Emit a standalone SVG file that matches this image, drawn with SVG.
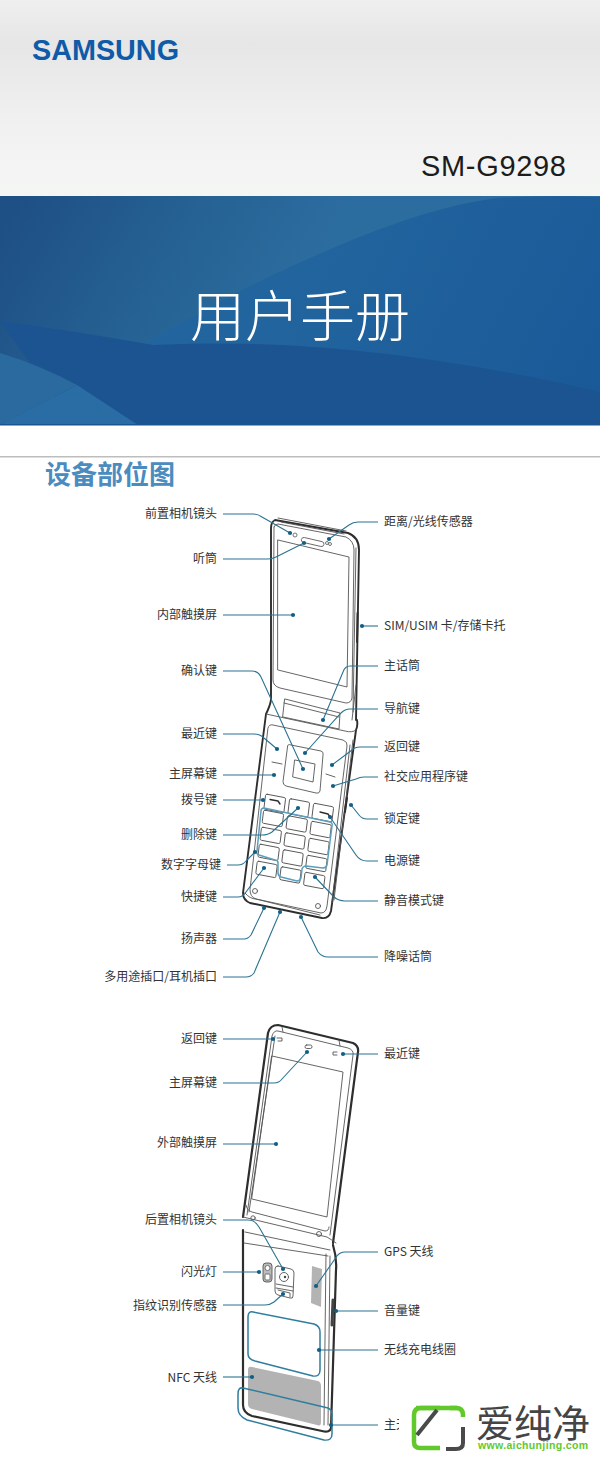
<svg xmlns="http://www.w3.org/2000/svg" width="600" height="1457" viewBox="0 0 600 1457">
<style>
.l{font:12px "Noto Sans CJK SC","Liberation Sans",sans-serif;fill:#333}
.e{text-anchor:end}
.c{fill:none;stroke:#2b7391;stroke-width:1.1;marker-end:url(#dot)}
.k{fill:none;stroke:#2e2e2e;stroke-width:1.9;stroke-linejoin:round;stroke-linecap:round}
.t{fill:none;stroke:#555;stroke-width:.9;stroke-linejoin:round;stroke-linecap:round}
.b{fill:#fff;stroke:#666;stroke-width:.9}
.h{fill:none;stroke:#5b9fbe;stroke-width:1.5;stroke-linejoin:round}
.g{fill:#b3b3b3}
</style>
<defs>
<marker id="dot" markerUnits="userSpaceOnUse" markerWidth="6" markerHeight="6" refX="3" refY="3"><circle cx="3" cy="3" r="2.1" fill="#115f86"/></marker>
<linearGradient id="hd" x1="0" y1="0" x2="0" y2="1"><stop offset="0" stop-color="#efefef"/><stop offset=".22" stop-color="#e6e6e6"/><stop offset=".6" stop-color="#f0f0f0"/><stop offset="1" stop-color="#f4f6f4"/></linearGradient>
<linearGradient id="ul" gradientUnits="userSpaceOnUse" x1="20" y1="190" x2="280" y2="340"><stop offset="0" stop-color="#1e4f85"/><stop offset=".55" stop-color="#266294"/><stop offset="1" stop-color="#2c6d9f"/></linearGradient>
<linearGradient id="rt" gradientUnits="userSpaceOnUse" x1="300" y1="240" x2="600" y2="400"><stop offset="0" stop-color="#22659e"/><stop offset="1" stop-color="#1a5998"/></linearGradient>
</defs>
<g id="cover">
<rect width="600" height="196" fill="url(#hd)"/>
<text x="32" y="60" font-family="Liberation Sans,sans-serif" font-weight="700" font-size="30" fill="#0f5ba8" textLength="147" lengthAdjust="spacingAndGlyphs">SAMSUNG</text>
<text x="421" y="176" font-family="Liberation Sans,sans-serif" font-size="29" fill="#1c1c1c" textLength="145">SM-G9298</text>
<rect y="196" width="600" height="229" fill="url(#ul)"/>
<path d="M0,425C100,368 200,310 268,277C340,244 420,208 497,198Q550,195 600,197V425Z" fill="url(#rt)"/>
<path d="M0,321Q80,332 153,345C250,340 400,345 600,392V425H75Z" fill="#1c5491"/>
<path d="M0,425L77,385L138,425Z" fill="#2a6ca4"/>
<path d="M0,353Q40,365 77,385L0,425Z" fill="#2a6a9f"/>
<rect y="424" width="600" height="1.5" fill="#1a5590"/>
<text x="190" y="336" font-family="Noto Sans CJK SC,sans-serif" font-weight="300" font-size="55" fill="#fff">用户手册</text>
<rect y="456" width="600" height="1.5" fill="#bdbdbd"/>
<text x="45" y="484" font-family="Noto Sans CJK SC,sans-serif" font-weight="700" font-size="26" fill="#4a8cc0">设备部位图</text>
</g>
<g id="phone-front">
<path class="k" d="M271,700V528Q271,522 275,520L348,533Q359,537 359,550L356,720"/>
<path class="t" d="M274,527Q275,524 278,524L346,537Q354,541 354,550L352,698Q351,703 346,703L280,688Q273,686 273,680L274,527"/>
<path class="t" d="M278,518L346,531M281,522L344,534M356,548L353,712"/>
<path class="t" d="M278,540L349,557L347,687L278,670Z"/>
<rect class="b" x="302" y="537" width="23" height="5" rx="2.5" transform="rotate(13 302 537)"/>
<circle class="b" cx="295" cy="535" r="2"/><circle class="b" cx="327" cy="543" r="1.5"/><circle class="b" cx="330" cy="544" r="1.5"/>
<path class="k" d="M357.500,613L357,642"/>
<path class="t" d="M285,699L340,713L339,729L283,717ZM284,703L339,717M356,685L352,720"/>
<path class="k" d="M271,700Q270,706 266,714L243,893Q243,900 250,903L322,918Q329,919 331,911L356,730Q358,726 357,720"/>
<path class="t" d="M268,728Q269,724 273,725L343,740Q348,742 347,746L327,906Q326,913 321,913L256,899Q250,897 250,890Z"/>
<path class="t" d="M350,745L332,903M353,740L334,900M266,714L345,731Q352,733 356,730M245,893Q250,899 256,899L320,915"/>
<path class="k" d="M347,798L345,812"/>
<path class="t" d="M288,745Q289,744 291,745L321,751Q324,752 323,755L320,791Q319,794 316,793L286,786Q283,785 283,782Z"/>
<path class="t" d="M295,760L315,764L313,782L293,777Z"/>
<path class="t" d="M272,762L282,764M326,774L335,777"/>
<g transform="translate(265.700,794)">
<g transform="matrix(1,.19,-.125,1,0,0)">
<rect class="t" x="0" y="0" width="20" height="15" rx="1.500"/><rect class="t" x="24" y="0" width="20" height="15" rx="1.500"/><rect class="t" x="48" y="0" width="20" height="15" rx="1.500"/>
<rect class="t" x="0" y="16" width="20" height="13" rx="1.500"/><rect class="t" x="24" y="17" width="20" height="13" rx="1.500"/><rect class="t" x="48" y="18" width="20" height="13" rx="1.500"/>
<rect class="t" x="0" y="33" width="20" height="13" rx="1.500"/><rect class="t" x="24" y="34" width="20" height="13" rx="1.500"/><rect class="t" x="48" y="35" width="20" height="13" rx="1.500"/>
<rect class="t" x="0" y="50" width="20" height="13" rx="1.500"/><rect class="t" x="24" y="51" width="20" height="13" rx="1.500"/><rect class="t" x="48" y="52" width="20" height="13" rx="1.500"/>
<rect class="t" x="0" y="67" width="20" height="13" rx="1.500"/><rect class="t" x="24" y="68" width="20" height="13" rx="1.500"/><rect class="t" x="48" y="69" width="20" height="13" rx="1.500"/>
</g></g>
<path class="k" d="M270,799.500L278,801L280,804M320,812L328,814L330,817" style="stroke-width:1.4"/>
<path class="h" d="M264,808L330,822Q333,823 332,826L327,865Q326,868 323,868L306,866Q303,866 302,869L301,878Q300,881 297,881L281,877Q278,876 278,873L278,863Q278,860 275,860L259,855Q256,854 257,851L261,811Q261,808 264,808Z"/>
<circle class="t" cx="255" cy="891" r="2.500"/><circle class="t" cx="318" cy="906" r="2.500"/>
</g>
<g id="phone-back">
<path class="k" d="M243,1217L268,1033Q270,1025 278,1025L353,1043Q359,1046 358,1052L333,1243" style="stroke-width:2.200"/>
<path class="t" d="M247,1215L272,1036Q274,1030 278,1031L348,1048Q354,1050 353,1055L330,1235M249,1212L275,1036"/>
<path class="t" d="M272,1056L343,1072L327,1217L252,1199Z"/>
<path class="t" d="M246,1205L247,1208Q248,1211 252,1212L325,1231Q329,1231 329,1227"/>
<path class="t" d="M282,1027L283,1032M339,1040L340,1046M243,1217L327,1237Q332,1240 336,1243"/>
<circle class="t" cx="253" cy="1218" r="2.200"/><circle class="t" cx="319" cy="1234" r="2.500"/>
<rect class="t" x="305" y="1045" width="7" height="3.500" rx="1.700"/>
<path class="t" d="M277,1038H282V1041H278M337,1052H333V1055H337"/>
<path class="k" d="M243,1230V1405Q243,1413 252,1416L322,1431Q330,1433 331,1428L336,1270Q337,1258 333,1245" style="stroke-width:2.200"/>
<path class="t" d="M245,1232L330,1250M244,1243L328,1256M326,1254L324,1425M330,1256L328,1425"/>
<rect x="263" y="1263" width="9" height="19" rx="3" fill="#bbb" stroke="#555" stroke-width=".9"/>
<circle class="b" cx="267.500" cy="1268" r="2.500"/><rect class="b" x="265" y="1274" width="5" height="6" rx="1"/>
<path class="t" d="M278,1266L291,1269Q294,1270 294,1273L293,1296Q293,1299 290,1298L278,1295Q275,1294 275,1291L275,1269Q275,1266 278,1266Z"/>
<circle class="t" cx="284" cy="1277" r="4.500"/><circle fill="#444" cx="285" cy="1277" r="1.200"/>
<path class="t" d="M276,1284L293,1287M276,1288L293,1291"/>
<path class="t" d="M278,1290L290,1293V1297"/>
<path class="g" d="M312,1266L322,1269L321,1307L311,1303Z"/>
<path class="k" d="M333,1300L332,1325" style="stroke-width:3;stroke:#444"/>
<path class="g" d="M248,1370Q248,1366 252,1367L318,1381Q321,1382 321,1386V1422Q321,1427 317,1425L252,1409Q248,1408 248,1404Z"/>
<path class="h" style="stroke:#2f7d9f" d="M253,1312L314,1324Q320,1326 320,1332V1370Q320,1377 313,1376L255,1361Q248,1359 248,1354V1317Q248,1311 253,1312Z"/>
<path class="h" style="stroke:#2f7d9f" d="M243,1388L328,1408Q332,1410 332,1414V1434Q332,1441 324,1440L247,1420Q238,1416 238,1408V1394Q238,1387 243,1388Z"/>
</g>
<g id="connectors">
<path class="c" d="M223,514H253Q258,514 262,517L290,533"/>
<path class="c" d="M223,559H268Q272,559 276,557L304,543"/>
<path class="c" d="M223,615H293"/>
<path class="c" d="M223,671H252Q258,671 261,677L303,769"/>
<path class="c" d="M223,734H254Q260,734 264,738L277,749"/>
<path class="c" d="M223,775H274"/>
<path class="c" d="M223,800H263"/>
<path class="c" d="M223,835H262Q268,835 272,832L298,808"/>
<path class="c" d="M227,865H238Q243,865 246,861L255,852"/>
<path class="c" d="M223,897H238Q243,897 246,892L264,868"/>
<path class="c" d="M223,939H244Q248,939 251,935L264,908"/>
<path class="c" d="M223,977H246Q251,977 254,973L280,912"/>
<path class="c" d="M378,522H358Q353,522 349,525L329,539"/>
<path class="c" d="M378,626H362"/>
<path class="c" d="M378,666H350Q345,666 343,672L323,720"/>
<path class="c" d="M378,709H350Q345,709 341,713L305,753"/>
<path class="c" d="M378,747H360Q355,747 352,750L332,765"/>
<path class="c" d="M378,777H364Q360,777 356,779L333,786"/>
<path class="c" d="M378,819H367Q362,819 359,815L351,805"/>
<path class="c" d="M378,861H367Q360,861 356,855L330,817"/>
<path class="c" d="M378,901H345Q338,901 333,896L315,877"/>
<path class="c" d="M378,957H328Q322,957 318,952L301,917"/>
<path class="c" d="M223,1039H273"/>
<path class="c" d="M223,1083H274Q279,1083 282,1079L307,1052"/>
<path class="c" d="M223,1144H276"/>
<path class="c" d="M223,1220H248Q255,1220 259,1227L283,1269"/>
<path class="c" d="M223,1272H259"/>
<path class="c" d="M223,1305H265Q270,1305 274,1302L283,1294"/>
<path class="c" d="M223,1377H252"/>
<path class="c" d="M378,1054H343"/>
<path class="c" d="M378,1252H345Q340,1252 337,1256L316,1286"/>
<path class="c" d="M378,1311H336"/>
<path class="c" d="M378,1350H319"/>
<path class="c" d="M378,1425H331"/>
</g>
<g id="labels">
<g id="n1"><text class="l e" x="217" y="518">前置相机镜头</text></g>
<g id="n2"><text class="l e" x="217" y="563">听筒</text></g>
<g id="n3"><text class="l e" x="217" y="619">内部触摸屏</text></g>
<g id="n4"><text class="l e" x="217" y="675">确认键</text></g>
<g id="n5"><text class="l e" x="217" y="738">最近键</text></g>
<g id="n6"><text class="l e" x="217" y="778">主屏幕键</text></g>
<g id="n7"><text class="l e" x="217" y="804">拨号键</text></g>
<g id="n8"><text class="l e" x="217" y="839">删除键</text></g>
<g id="n9"><text class="l e" x="221" y="869">数字字母键</text></g>
<g id="n10"><text class="l e" x="217" y="901">快捷键</text></g>
<g id="n11"><text class="l e" x="217" y="943">扬声器</text></g>
<g id="n12"><text class="l e" x="217" y="981">多用途插口/耳机插口</text></g>
<g id="n13"><text class="l" x="384" y="526">距离/光线传感器</text></g>
<g id="n14"><text class="l" x="384" y="630">SIM/USIM 卡/存储卡托</text></g>
<g id="n15"><text class="l" x="384" y="670">主话筒</text></g>
<g id="n16"><text class="l" x="384" y="713">导航键</text></g>
<g id="n17"><text class="l" x="384" y="751">返回键</text></g>
<g id="n18"><text class="l" x="384" y="781">社交应用程序键</text></g>
<g id="n19"><text class="l" x="384" y="823">锁定键</text></g>
<g id="n20"><text class="l" x="384" y="865">电源键</text></g>
<g id="n21"><text class="l" x="384" y="905">静音模式键</text></g>
<g id="n22"><text class="l" x="384" y="961">降噪话筒</text></g>
<g id="n23"><text class="l e" x="217" y="1043">返回键</text></g>
<g id="n24"><text class="l e" x="217" y="1087">主屏幕键</text></g>
<g id="n25"><text class="l e" x="217" y="1147">外部触摸屏</text></g>
<g id="n26"><text class="l e" x="217" y="1224">后置相机镜头</text></g>
<g id="n27"><text class="l e" x="217" y="1276">闪光灯</text></g>
<g id="n28"><text class="l e" x="217" y="1310">指纹识别传感器</text></g>
<g id="n29"><text class="l e" x="217" y="1382">NFC 天线</text></g>
<g id="n30"><text class="l" x="384" y="1058">最近键</text></g>
<g id="n31"><text class="l" x="384" y="1256">GPS 天线</text></g>
<g id="n32"><text class="l" x="384" y="1315">音量键</text></g>
<g id="n33"><text class="l" x="384" y="1354">无线充电线圈</text></g>
<g id="n34"><text class="l" x="384" y="1429">主天线</text></g>
</g>
<g id="watermark">
<rect x="399" y="1398" width="201" height="59" fill="#fff"/>
<path d="M440,1408H421Q414,1408 414,1415V1442Q414,1448 420,1448H440M450,1408H456Q463,1408 463,1415V1417" fill="none" stroke="#62c92c" stroke-width="4.500"/>
<path d="M416,1408H458" fill="none" stroke="#62c92c" stroke-width="4.500"/>
<path d="M446,1449H456Q463,1449 463,1443V1427M417,1435L437,1410" fill="none" stroke="#4a4a4a" stroke-width="4"/>
<text x="476" y="1437" font-family="Noto Sans CJK SC,sans-serif" font-size="38" fill="#454545" textLength="114">爱纯净</text>
<text x="478" y="1449" font-family="Liberation Sans,sans-serif" font-weight="700" font-size="10.500" fill="#62c92c" textLength="110">www.aichunjing.com</text>
</g>
</svg>
